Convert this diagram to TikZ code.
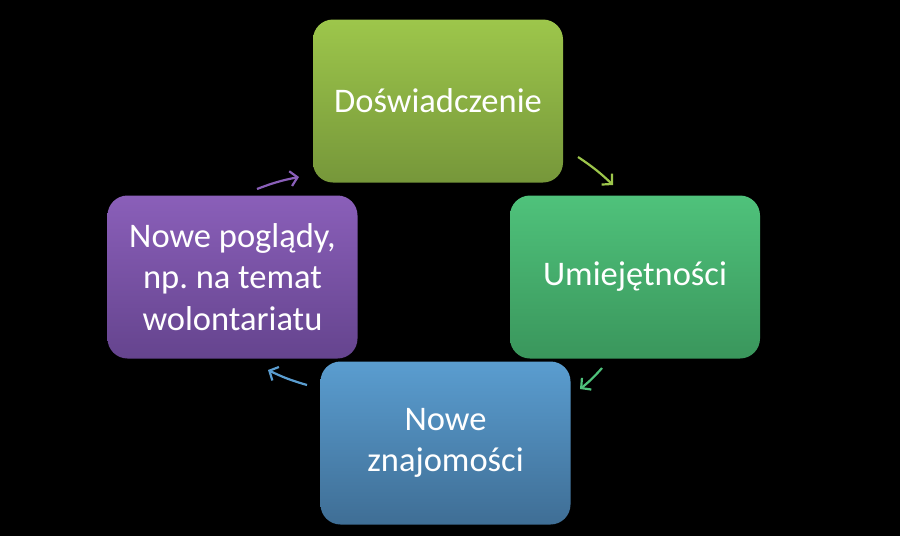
\documentclass[tikz,border=0pt]{standalone}
\usepackage{fontspec}
\setmainfont{Carlito}
\usetikzlibrary{arrows.meta}
\frenchspacing
\definecolor{greenA}{HTML}{9DC64B}
\definecolor{greenB}{HTML}{76973A}
\definecolor{mintA}{HTML}{4FC27B}
\definecolor{mintB}{HTML}{3A965C}
\definecolor{blueA}{HTML}{5A9DD0}
\definecolor{blueB}{HTML}{3F6E95}
\definecolor{violetA}{HTML}{8A5FB9}
\definecolor{violetB}{HTML}{65448E}
\begin{document}
\begin{tikzpicture}[x=1pt,y=-1pt]
	\tikzstyle{stage}=[rectangle,rounded corners=20pt,minimum width=250pt,minimum height=163pt,
		text=white,font=\fontsize{34.5}{41.5}\selectfont,align=center,inner sep=0pt]
	\tikzstyle{cycle}=[line width=2.2pt,-{Straight Barb[length=7pt,width=15pt]}]
	\fill[black] (0,0) rectangle (900,536);
	% stages
	\node [stage,top color=greenA,bottom color=greenB] (exp) at (438,101) {Doświadczenie};
	\node [stage,top color=mintA,bottom color=mintB] (skill) at (635,277) {Umiejętności};
	\node [stage,top color=blueA,bottom color=blueB] (friend) at (445.5,443) {Nowe\\znajomości};
	\node [stage,top color=violetA,bottom color=violetB] (view) at (232.5,277) {Nowe poglądy,\\np. na temat\\wolontariatu};
	% arrows between stages
	\coordinate (a1) at (578,157); \coordinate (b1) at (613,185);
	\coordinate (a2) at (602,368); \coordinate (b2) at (580,389);
	\coordinate (a3) at (307,385); \coordinate (b3) at (268,370);
	\coordinate (a4) at (257,189); \coordinate (b4) at (299,177);
	\draw[cycle,greenA] (a1) to[bend left=5] (b1);
	\draw[cycle,mintA] (a2) to[bend left=5] (b2);
	\draw[cycle,blueA] (a3) to[bend left=5] (b3);
	\draw[cycle,violetA] (a4) to[bend left=5] (b4);
\end{tikzpicture}
\end{document}
